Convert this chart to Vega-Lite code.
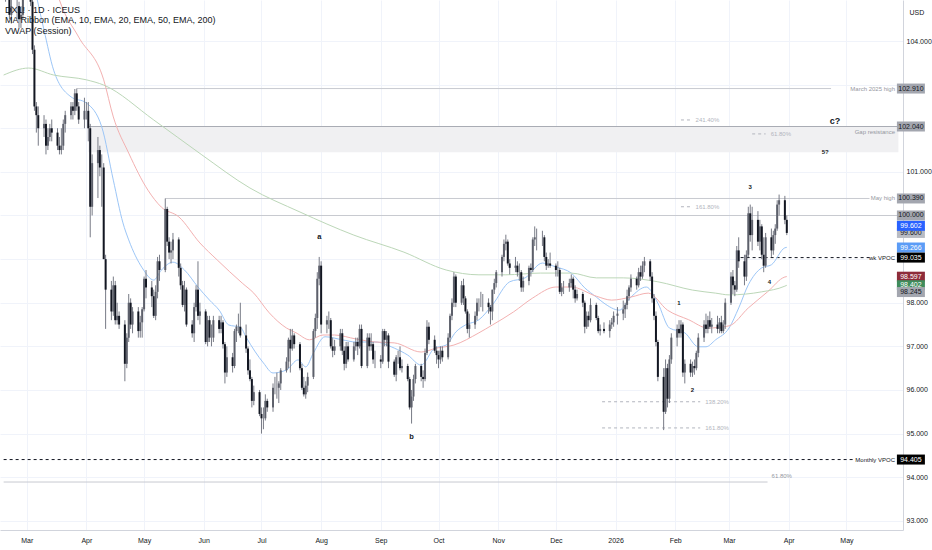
{
  "$schema": "https://vega.github.io/schema/vega-lite/v6.json",
  "width": 903,
  "height": 530,
  "autosize": {"type": "none"},
  "padding": {"left": 0, "top": 0, "right": 29, "bottom": 20},
  "background": "white",
  "config": {"view": {"stroke": null}, "font": "Liberation Sans"},
  "title": {
    "text": "DX1! · 1D · ICEUS",
    "subtitle": ["MA Ribbon (EMA, 10, EMA, 20, EMA, 50, EMA, 200)", "VWAP (Session)"],
    "anchor": "start", "frame": "group", "orient": "top", "offset": -36, "dx": 5,
    "fontSize": 9, "fontWeight": "normal", "color": "#131722",
    "subtitleFontSize": 9, "subtitleColor": "#131722", "subtitlePadding": 1, "subtitleLineHeight": 11
  },
  "datasets": {
    "candles": [
      {"d":"2025-02-18","o":105.1,"h":105.5,"l":104.9,"c":105.3},
      {"d":"2025-02-19","o":105.3,"h":105.6,"l":105.0,"c":105.4},
      {"d":"2025-02-20","o":105.4,"h":105.5,"l":104.5,"c":104.6},
      {"d":"2025-02-21","o":104.6,"h":105.0,"l":104.4,"c":104.8},
      {"d":"2025-02-24","o":104.8,"h":105.0,"l":104.5,"c":104.8},
      {"d":"2025-02-25","o":104.8,"h":104.9,"l":104.3,"c":104.5},
      {"d":"2025-02-26","o":104.5,"h":104.8,"l":104.3,"c":104.6},
      {"d":"2025-02-27","o":104.6,"h":105.5,"l":104.5,"c":105.4},
      {"d":"2025-02-28","o":105.4,"h":105.9,"l":105.2,"c":105.8},
      {"d":"2025-03-03","o":105.8,"h":105.9,"l":104.8,"c":104.9},
      {"d":"2025-03-04","o":104.9,"h":105.1,"l":103.7,"c":103.8},
      {"d":"2025-03-05","o":103.8,"h":103.9,"l":102.4,"c":102.5},
      {"d":"2025-03-06","o":102.5,"h":102.6,"l":101.9,"c":102.3},
      {"d":"2025-03-07","o":102.3,"h":102.5,"l":101.6,"c":102.0},
      {"d":"2025-03-10","o":102.0,"h":102.3,"l":101.8,"c":102.1},
      {"d":"2025-03-11","o":102.1,"h":102.2,"l":101.4,"c":101.6},
      {"d":"2025-03-12","o":101.6,"h":102.0,"l":101.5,"c":101.8},
      {"d":"2025-03-13","o":101.8,"h":102.1,"l":101.7,"c":102.0},
      {"d":"2025-03-14","o":102.0,"h":102.2,"l":101.7,"c":101.9},
      {"d":"2025-03-17","o":101.9,"h":102.0,"l":101.5,"c":101.6},
      {"d":"2025-03-18","o":101.6,"h":101.8,"l":101.4,"c":101.5},
      {"d":"2025-03-19","o":101.5,"h":102.0,"l":101.4,"c":101.6},
      {"d":"2025-03-20","o":101.6,"h":102.2,"l":101.5,"c":102.1},
      {"d":"2025-03-21","o":102.1,"h":102.4,"l":101.9,"c":102.3},
      {"d":"2025-03-24","o":102.3,"h":102.6,"l":102.2,"c":102.5},
      {"d":"2025-03-25","o":102.5,"h":102.6,"l":102.2,"c":102.4},
      {"d":"2025-03-26","o":102.4,"h":102.9,"l":102.3,"c":102.8},
      {"d":"2025-03-27","o":102.8,"h":102.91,"l":102.4,"c":102.5},
      {"d":"2025-03-28","o":102.5,"h":102.6,"l":102.1,"c":102.2},
      {"d":"2025-03-31","o":102.2,"h":102.7,"l":102.0,"c":102.4},
      {"d":"2025-04-01","o":102.4,"h":102.6,"l":102.2,"c":102.4},
      {"d":"2025-04-02","o":102.4,"h":102.6,"l":101.7,"c":102.0},
      {"d":"2025-04-03","o":102.0,"h":102.1,"l":99.5,"c":100.2},
      {"d":"2025-04-04","o":100.2,"h":101.4,"l":100.0,"c":101.2},
      {"d":"2025-04-07","o":101.2,"h":101.8,"l":100.4,"c":101.5},
      {"d":"2025-04-08","o":101.5,"h":101.6,"l":100.9,"c":101.1},
      {"d":"2025-04-09","o":101.1,"h":101.4,"l":100.2,"c":101.1},
      {"d":"2025-04-10","o":101.1,"h":101.2,"l":99.0,"c":99.0},
      {"d":"2025-04-11","o":99.0,"h":99.1,"l":97.4,"c":98.3},
      {"d":"2025-04-14","o":98.3,"h":98.5,"l":97.6,"c":97.8},
      {"d":"2025-04-15","o":97.8,"h":98.6,"l":97.7,"c":98.4},
      {"d":"2025-04-16","o":98.4,"h":98.5,"l":97.5,"c":97.6},
      {"d":"2025-04-17","o":97.6,"h":98.0,"l":97.5,"c":97.7},
      {"d":"2025-04-18","o":97.7,"h":97.8,"l":97.4,"c":97.5},
      {"d":"2025-04-21","o":97.5,"h":97.6,"l":96.2,"c":96.6},
      {"d":"2025-04-22","o":96.6,"h":97.3,"l":96.5,"c":97.2},
      {"d":"2025-04-23","o":97.2,"h":98.2,"l":97.1,"c":98.0},
      {"d":"2025-04-24","o":98.0,"h":98.1,"l":97.4,"c":97.5},
      {"d":"2025-04-25","o":97.5,"h":97.9,"l":97.3,"c":97.8},
      {"d":"2025-04-28","o":97.8,"h":97.9,"l":97.2,"c":97.35},
      {"d":"2025-04-29","o":97.35,"h":97.7,"l":97.2,"c":97.55},
      {"d":"2025-04-30","o":97.55,"h":97.9,"l":97.2,"c":97.85},
      {"d":"2025-05-01","o":97.85,"h":98.6,"l":97.8,"c":98.55},
      {"d":"2025-05-02","o":98.55,"h":98.75,"l":98.1,"c":98.35},
      {"d":"2025-05-05","o":98.35,"h":98.5,"l":97.9,"c":98.15},
      {"d":"2025-05-06","o":98.15,"h":98.3,"l":97.65,"c":97.7},
      {"d":"2025-05-07","o":97.7,"h":98.4,"l":97.6,"c":98.25},
      {"d":"2025-05-08","o":98.25,"h":99.05,"l":98.1,"c":98.95},
      {"d":"2025-05-09","o":98.95,"h":99.1,"l":98.5,"c":98.75},
      {"d":"2025-05-12","o":98.75,"h":100.39,"l":98.7,"c":100.15},
      {"d":"2025-05-13","o":100.15,"h":100.2,"l":99.3,"c":99.4},
      {"d":"2025-05-14","o":99.4,"h":99.5,"l":99.0,"c":99.15},
      {"d":"2025-05-15","o":99.15,"h":99.4,"l":98.9,"c":99.2},
      {"d":"2025-05-16","o":99.2,"h":99.6,"l":99.0,"c":99.45},
      {"d":"2025-05-19","o":99.45,"h":99.5,"l":98.6,"c":98.8},
      {"d":"2025-05-20","o":98.8,"h":98.9,"l":98.3,"c":98.4},
      {"d":"2025-05-21","o":98.4,"h":98.5,"l":97.9,"c":97.95},
      {"d":"2025-05-22","o":97.95,"h":98.5,"l":97.8,"c":98.3},
      {"d":"2025-05-23","o":98.3,"h":98.35,"l":97.45,"c":97.5},
      {"d":"2025-05-26","o":97.5,"h":97.6,"l":97.2,"c":97.3},
      {"d":"2025-05-27","o":97.3,"h":98.0,"l":97.1,"c":97.9},
      {"d":"2025-05-28","o":97.9,"h":98.4,"l":97.8,"c":98.3},
      {"d":"2025-05-29","o":98.3,"h":98.95,"l":97.6,"c":97.7},
      {"d":"2025-05-30","o":97.7,"h":98.0,"l":97.5,"c":97.8},
      {"d":"2025-06-02","o":97.8,"h":97.85,"l":97.05,"c":97.1},
      {"d":"2025-06-03","o":97.1,"h":97.7,"l":97.0,"c":97.6},
      {"d":"2025-06-04","o":97.6,"h":97.7,"l":97.1,"c":97.2},
      {"d":"2025-06-05","o":97.2,"h":97.5,"l":97.0,"c":97.2},
      {"d":"2025-06-06","o":97.2,"h":97.7,"l":97.1,"c":97.6},
      {"d":"2025-06-09","o":97.6,"h":97.7,"l":97.3,"c":97.4},
      {"d":"2025-06-10","o":97.4,"h":97.7,"l":97.3,"c":97.55},
      {"d":"2025-06-11","o":97.55,"h":97.6,"l":96.95,"c":97.05},
      {"d":"2025-06-12","o":97.05,"h":97.1,"l":96.15,"c":96.4},
      {"d":"2025-06-13","o":96.4,"h":97.0,"l":96.3,"c":96.75},
      {"d":"2025-06-16","o":96.75,"h":96.85,"l":96.4,"c":96.55},
      {"d":"2025-06-17","o":96.55,"h":97.4,"l":96.5,"c":97.35},
      {"d":"2025-06-18","o":97.35,"h":97.5,"l":97.1,"c":97.45},
      {"d":"2025-06-19","o":97.45,"h":97.75,"l":97.3,"c":97.45},
      {"d":"2025-06-20","o":97.45,"h":98.0,"l":97.2,"c":97.25},
      {"d":"2025-06-23","o":97.25,"h":97.5,"l":96.85,"c":96.95},
      {"d":"2025-06-24","o":96.95,"h":97.0,"l":96.35,"c":96.45},
      {"d":"2025-06-25","o":96.45,"h":96.7,"l":96.2,"c":96.25},
      {"d":"2025-06-26","o":96.25,"h":96.3,"l":95.6,"c":95.75},
      {"d":"2025-06-27","o":95.75,"h":96.1,"l":95.65,"c":95.95},
      {"d":"2025-06-30","o":95.95,"h":96.0,"l":95.4,"c":95.45},
      {"d":"2025-07-01","o":95.45,"h":95.6,"l":95.0,"c":95.35},
      {"d":"2025-07-02","o":95.35,"h":95.6,"l":95.1,"c":95.35},
      {"d":"2025-07-03","o":95.35,"h":95.9,"l":95.3,"c":95.75},
      {"d":"2025-07-04","o":95.75,"h":95.8,"l":95.5,"c":95.6},
      {"d":"2025-07-07","o":95.6,"h":96.15,"l":95.5,"c":96.05},
      {"d":"2025-07-08","o":96.05,"h":96.3,"l":95.9,"c":96.05},
      {"d":"2025-07-09","o":96.05,"h":96.4,"l":95.8,"c":96.05},
      {"d":"2025-07-10","o":96.05,"h":96.2,"l":95.7,"c":96.15},
      {"d":"2025-07-11","o":96.15,"h":96.5,"l":96.0,"c":96.45},
      {"d":"2025-07-14","o":96.45,"h":96.75,"l":96.4,"c":96.65},
      {"d":"2025-07-15","o":96.65,"h":97.2,"l":96.5,"c":97.15},
      {"d":"2025-07-16","o":97.15,"h":97.4,"l":96.4,"c":96.95},
      {"d":"2025-07-17","o":96.95,"h":97.4,"l":96.9,"c":97.25},
      {"d":"2025-07-18","o":97.25,"h":97.3,"l":96.95,"c":97.05},
      {"d":"2025-07-21","o":97.05,"h":97.1,"l":96.45,"c":96.5},
      {"d":"2025-07-22","o":96.5,"h":96.6,"l":96.0,"c":96.05},
      {"d":"2025-07-23","o":96.05,"h":96.3,"l":95.85,"c":95.9},
      {"d":"2025-07-24","o":95.9,"h":96.2,"l":95.8,"c":96.1},
      {"d":"2025-07-25","o":96.1,"h":96.4,"l":95.95,"c":96.3},
      {"d":"2025-07-28","o":96.3,"h":97.4,"l":96.25,"c":97.35},
      {"d":"2025-07-29","o":97.35,"h":97.75,"l":97.2,"c":97.65},
      {"d":"2025-07-30","o":97.65,"h":98.7,"l":97.4,"c":98.55},
      {"d":"2025-07-31","o":98.55,"h":99.05,"l":98.4,"c":98.85},
      {"d":"2025-08-01","o":98.85,"h":98.95,"l":97.3,"c":97.5},
      {"d":"2025-08-04","o":97.5,"h":97.7,"l":97.3,"c":97.6},
      {"d":"2025-08-05","o":97.6,"h":97.8,"l":97.4,"c":97.6},
      {"d":"2025-08-06","o":97.6,"h":97.65,"l":96.95,"c":97.0},
      {"d":"2025-08-07","o":97.0,"h":97.2,"l":96.75,"c":96.9},
      {"d":"2025-08-08","o":96.9,"h":97.15,"l":96.8,"c":97.0},
      {"d":"2025-08-11","o":97.0,"h":97.4,"l":96.9,"c":97.3},
      {"d":"2025-08-12","o":97.3,"h":97.4,"l":96.8,"c":96.9},
      {"d":"2025-08-13","o":96.9,"h":97.0,"l":96.45,"c":96.6},
      {"d":"2025-08-14","o":96.6,"h":97.1,"l":96.5,"c":97.0},
      {"d":"2025-08-15","o":97.0,"h":97.1,"l":96.65,"c":96.7},
      {"d":"2025-08-18","o":96.7,"h":97.1,"l":96.65,"c":97.0},
      {"d":"2025-08-19","o":97.0,"h":97.2,"l":96.9,"c":97.1},
      {"d":"2025-08-20","o":97.1,"h":97.2,"l":96.8,"c":97.0},
      {"d":"2025-08-21","o":97.0,"h":97.5,"l":96.95,"c":97.4},
      {"d":"2025-08-22","o":97.4,"h":97.5,"l":96.5,"c":96.55},
      {"d":"2025-08-25","o":96.55,"h":97.3,"l":96.5,"c":97.2},
      {"d":"2025-08-26","o":97.2,"h":97.3,"l":96.9,"c":97.0},
      {"d":"2025-08-27","o":97.0,"h":97.3,"l":96.9,"c":97.05},
      {"d":"2025-08-28","o":97.05,"h":97.1,"l":96.6,"c":96.7},
      {"d":"2025-08-29","o":96.7,"h":96.9,"l":96.5,"c":96.7},
      {"d":"2025-09-01","o":96.7,"h":96.8,"l":96.5,"c":96.65},
      {"d":"2025-09-02","o":96.65,"h":97.4,"l":96.6,"c":97.35},
      {"d":"2025-09-03","o":97.35,"h":97.4,"l":97.0,"c":97.15},
      {"d":"2025-09-04","o":97.15,"h":97.35,"l":97.0,"c":97.25},
      {"d":"2025-09-05","o":97.25,"h":97.3,"l":96.5,"c":96.65},
      {"d":"2025-09-08","o":96.65,"h":96.7,"l":96.3,"c":96.35},
      {"d":"2025-09-09","o":96.35,"h":96.8,"l":96.2,"c":96.75},
      {"d":"2025-09-10","o":96.75,"h":96.9,"l":96.6,"c":96.75},
      {"d":"2025-09-11","o":96.75,"h":97.0,"l":96.45,"c":96.5},
      {"d":"2025-09-12","o":96.5,"h":96.7,"l":96.4,"c":96.55},
      {"d":"2025-09-15","o":96.55,"h":96.6,"l":96.2,"c":96.25},
      {"d":"2025-09-16","o":96.25,"h":96.3,"l":95.55,"c":95.6},
      {"d":"2025-09-17","o":95.6,"h":96.0,"l":95.23,"c":95.85},
      {"d":"2025-09-18","o":95.85,"h":96.35,"l":95.75,"c":96.25},
      {"d":"2025-09-19","o":96.25,"h":96.6,"l":96.15,"c":96.55},
      {"d":"2025-09-22","o":96.55,"h":96.6,"l":96.2,"c":96.3},
      {"d":"2025-09-23","o":96.3,"h":96.45,"l":96.05,"c":96.25},
      {"d":"2025-09-24","o":96.25,"h":96.95,"l":96.2,"c":96.85},
      {"d":"2025-09-25","o":96.85,"h":97.6,"l":96.8,"c":97.45},
      {"d":"2025-09-26","o":97.45,"h":97.55,"l":97.05,"c":97.15},
      {"d":"2025-09-29","o":97.15,"h":97.25,"l":96.85,"c":96.9},
      {"d":"2025-09-30","o":96.9,"h":97.0,"l":96.6,"c":96.8},
      {"d":"2025-10-01","o":96.8,"h":96.9,"l":96.5,"c":96.7},
      {"d":"2025-10-02","o":96.7,"h":97.0,"l":96.6,"c":96.9},
      {"d":"2025-10-03","o":96.9,"h":97.0,"l":96.65,"c":96.75},
      {"d":"2025-10-06","o":96.75,"h":97.3,"l":96.7,"c":97.2},
      {"d":"2025-10-07","o":97.2,"h":97.75,"l":97.1,"c":97.7},
      {"d":"2025-10-08","o":97.7,"h":98.1,"l":97.6,"c":98.0},
      {"d":"2025-10-09","o":98.0,"h":98.7,"l":97.9,"c":98.6},
      {"d":"2025-10-10","o":98.6,"h":98.65,"l":97.9,"c":98.0},
      {"d":"2025-10-13","o":98.0,"h":98.5,"l":97.95,"c":98.4},
      {"d":"2025-10-14","o":98.4,"h":98.55,"l":97.95,"c":98.1},
      {"d":"2025-10-15","o":98.1,"h":98.15,"l":97.75,"c":97.8},
      {"d":"2025-10-16","o":97.8,"h":97.85,"l":97.3,"c":97.4},
      {"d":"2025-10-17","o":97.4,"h":97.75,"l":97.2,"c":97.5},
      {"d":"2025-10-20","o":97.5,"h":97.8,"l":97.4,"c":97.7},
      {"d":"2025-10-21","o":97.7,"h":98.1,"l":97.6,"c":98.0},
      {"d":"2025-10-22","o":98.0,"h":98.1,"l":97.8,"c":98.0},
      {"d":"2025-10-23","o":98.0,"h":98.25,"l":97.9,"c":98.0},
      {"d":"2025-10-24","o":98.0,"h":98.2,"l":97.8,"c":98.0},
      {"d":"2025-10-27","o":98.0,"h":98.1,"l":97.75,"c":97.9},
      {"d":"2025-10-28","o":97.9,"h":97.95,"l":97.5,"c":97.8},
      {"d":"2025-10-29","o":97.8,"h":98.3,"l":97.6,"c":98.3},
      {"d":"2025-10-30","o":98.3,"h":98.55,"l":98.2,"c":98.45},
      {"d":"2025-10-31","o":98.45,"h":98.75,"l":98.35,"c":98.7},
      {"d":"2025-11-03","o":98.7,"h":99.1,"l":98.6,"c":99.05},
      {"d":"2025-11-04","o":99.05,"h":99.45,"l":98.95,"c":99.35},
      {"d":"2025-11-05","o":99.35,"h":99.56,"l":99.2,"c":99.4},
      {"d":"2025-11-06","o":99.4,"h":99.45,"l":98.85,"c":98.9},
      {"d":"2025-11-07","o":98.9,"h":99.0,"l":98.65,"c":98.8},
      {"d":"2025-11-10","o":98.8,"h":99.05,"l":98.7,"c":98.85},
      {"d":"2025-11-11","o":98.85,"h":98.95,"l":98.6,"c":98.7},
      {"d":"2025-11-12","o":98.7,"h":98.9,"l":98.5,"c":98.7},
      {"d":"2025-11-13","o":98.7,"h":98.75,"l":98.25,"c":98.35},
      {"d":"2025-11-14","o":98.35,"h":98.6,"l":98.25,"c":98.5},
      {"d":"2025-11-17","o":98.5,"h":98.85,"l":98.4,"c":98.8},
      {"d":"2025-11-18","o":98.8,"h":98.9,"l":98.6,"c":98.75},
      {"d":"2025-11-19","o":98.75,"h":99.5,"l":98.7,"c":99.45},
      {"d":"2025-11-20","o":99.45,"h":99.75,"l":99.3,"c":99.5},
      {"d":"2025-11-21","o":99.5,"h":99.7,"l":99.2,"c":99.5},
      {"d":"2025-11-24","o":99.5,"h":99.65,"l":99.3,"c":99.5},
      {"d":"2025-11-25","o":99.5,"h":99.55,"l":98.95,"c":99.05},
      {"d":"2025-11-26","o":99.05,"h":99.15,"l":98.75,"c":98.85},
      {"d":"2025-11-27","o":98.85,"h":99.0,"l":98.8,"c":98.9},
      {"d":"2025-11-28","o":98.9,"h":99.15,"l":98.8,"c":98.85},
      {"d":"2025-12-01","o":98.85,"h":98.9,"l":98.6,"c":98.75},
      {"d":"2025-12-02","o":98.75,"h":98.95,"l":98.6,"c":98.75},
      {"d":"2025-12-03","o":98.75,"h":98.8,"l":98.2,"c":98.25},
      {"d":"2025-12-04","o":98.25,"h":98.45,"l":98.15,"c":98.35},
      {"d":"2025-12-05","o":98.35,"h":98.5,"l":98.2,"c":98.35},
      {"d":"2025-12-08","o":98.35,"h":98.55,"l":98.25,"c":98.45},
      {"d":"2025-12-09","o":98.45,"h":98.65,"l":98.35,"c":98.55},
      {"d":"2025-12-10","o":98.55,"h":98.6,"l":98.1,"c":98.3},
      {"d":"2025-12-11","o":98.3,"h":98.4,"l":98.0,"c":98.1},
      {"d":"2025-12-12","o":98.1,"h":98.3,"l":98.05,"c":98.2},
      {"d":"2025-12-15","o":98.2,"h":98.25,"l":97.9,"c":98.0},
      {"d":"2025-12-16","o":98.0,"h":98.05,"l":97.3,"c":97.45},
      {"d":"2025-12-17","o":97.45,"h":97.8,"l":97.4,"c":97.7},
      {"d":"2025-12-18","o":97.7,"h":97.8,"l":97.45,"c":97.6},
      {"d":"2025-12-19","o":97.6,"h":98.1,"l":97.55,"c":97.95},
      {"d":"2025-12-22","o":97.95,"h":98.0,"l":97.6,"c":97.65},
      {"d":"2025-12-23","o":97.65,"h":97.7,"l":97.3,"c":97.35},
      {"d":"2025-12-24","o":97.35,"h":97.5,"l":97.25,"c":97.4},
      {"d":"2025-12-26","o":97.4,"h":97.55,"l":97.3,"c":97.35},
      {"d":"2025-12-29","o":97.35,"h":97.6,"l":97.2,"c":97.5},
      {"d":"2025-12-30","o":97.5,"h":97.65,"l":97.4,"c":97.55},
      {"d":"2025-12-31","o":97.55,"h":97.8,"l":97.45,"c":97.7},
      {"d":"2026-01-02","o":97.7,"h":97.9,"l":97.5,"c":97.75},
      {"d":"2026-01-05","o":97.75,"h":98.05,"l":97.6,"c":97.85},
      {"d":"2026-01-06","o":97.85,"h":98.0,"l":97.65,"c":97.95},
      {"d":"2026-01-07","o":97.95,"h":98.3,"l":97.85,"c":98.15},
      {"d":"2026-01-08","o":98.15,"h":98.4,"l":98.05,"c":98.35},
      {"d":"2026-01-09","o":98.35,"h":98.65,"l":98.25,"c":98.55},
      {"d":"2026-01-12","o":98.55,"h":98.6,"l":98.3,"c":98.4},
      {"d":"2026-01-13","o":98.4,"h":98.8,"l":98.35,"c":98.7},
      {"d":"2026-01-14","o":98.7,"h":98.85,"l":98.5,"c":98.6},
      {"d":"2026-01-15","o":98.6,"h":98.95,"l":98.55,"c":98.85},
      {"d":"2026-01-16","o":98.85,"h":99.05,"l":98.7,"c":98.95},
      {"d":"2026-01-19","o":98.95,"h":99.0,"l":98.5,"c":98.6},
      {"d":"2026-01-20","o":98.6,"h":98.7,"l":98.0,"c":98.1},
      {"d":"2026-01-21","o":98.1,"h":98.2,"l":97.6,"c":97.7},
      {"d":"2026-01-22","o":97.7,"h":97.8,"l":97.0,"c":97.1},
      {"d":"2026-01-23","o":97.1,"h":97.15,"l":96.2,"c":96.3},
      {"d":"2026-01-26","o":96.3,"h":96.5,"l":95.08,"c":95.5},
      {"d":"2026-01-27","o":95.5,"h":96.7,"l":95.45,"c":96.5},
      {"d":"2026-01-28","o":96.5,"h":96.6,"l":95.6,"c":95.8},
      {"d":"2026-01-29","o":95.8,"h":96.8,"l":95.7,"c":96.7},
      {"d":"2026-01-30","o":96.7,"h":97.3,"l":96.6,"c":97.2},
      {"d":"2026-02-02","o":97.2,"h":97.5,"l":97.0,"c":97.4},
      {"d":"2026-02-03","o":97.4,"h":97.6,"l":97.2,"c":97.3},
      {"d":"2026-02-04","o":97.3,"h":97.6,"l":97.2,"c":97.5},
      {"d":"2026-02-05","o":97.5,"h":97.55,"l":96.3,"c":96.4},
      {"d":"2026-02-06","o":96.4,"h":96.7,"l":96.15,"c":96.6},
      {"d":"2026-02-09","o":96.6,"h":96.7,"l":96.3,"c":96.4},
      {"d":"2026-02-10","o":96.4,"h":96.65,"l":96.3,"c":96.55},
      {"d":"2026-02-11","o":96.55,"h":96.7,"l":96.35,"c":96.5},
      {"d":"2026-02-12","o":96.5,"h":96.9,"l":96.45,"c":96.85},
      {"d":"2026-02-13","o":96.85,"h":97.3,"l":96.75,"c":97.2},
      {"d":"2026-02-16","o":97.2,"h":97.6,"l":97.1,"c":97.5},
      {"d":"2026-02-17","o":97.5,"h":97.75,"l":97.3,"c":97.4},
      {"d":"2026-02-18","o":97.4,"h":97.7,"l":97.3,"c":97.6},
      {"d":"2026-02-19","o":97.6,"h":97.8,"l":97.4,"c":97.45},
      {"d":"2026-02-20","o":97.45,"h":97.65,"l":97.3,"c":97.5},
      {"d":"2026-02-23","o":97.5,"h":97.7,"l":97.3,"c":97.4},
      {"d":"2026-02-24","o":97.4,"h":97.65,"l":97.3,"c":97.55},
      {"d":"2026-02-25","o":97.55,"h":97.7,"l":97.3,"c":97.35},
      {"d":"2026-02-26","o":97.35,"h":97.6,"l":97.3,"c":97.5},
      {"d":"2026-02-27","o":97.5,"h":98.1,"l":97.4,"c":98.0},
      {"d":"2026-03-02","o":98.0,"h":98.7,"l":97.95,"c":98.6},
      {"d":"2026-03-03","o":98.6,"h":98.75,"l":98.2,"c":98.4},
      {"d":"2026-03-04","o":98.4,"h":98.5,"l":98.15,"c":98.3},
      {"d":"2026-03-05","o":98.3,"h":99.3,"l":98.25,"c":99.2},
      {"d":"2026-03-06","o":99.2,"h":99.5,"l":98.8,"c":98.95},
      {"d":"2026-03-09","o":98.95,"h":99.1,"l":98.4,"c":98.6},
      {"d":"2026-03-10","o":98.6,"h":99.2,"l":98.5,"c":99.1},
      {"d":"2026-03-11","o":99.1,"h":100.2,"l":99.05,"c":100.05},
      {"d":"2026-03-12","o":100.05,"h":100.25,"l":99.4,"c":99.55},
      {"d":"2026-03-13","o":99.55,"h":100.2,"l":99.2,"c":99.9},
      {"d":"2026-03-16","o":99.9,"h":100.1,"l":99.3,"c":99.4},
      {"d":"2026-03-17","o":99.4,"h":99.9,"l":99.2,"c":99.75},
      {"d":"2026-03-18","o":99.75,"h":99.8,"l":99.0,"c":99.1},
      {"d":"2026-03-19","o":99.1,"h":99.5,"l":98.7,"c":98.85},
      {"d":"2026-03-20","o":98.85,"h":99.6,"l":98.8,"c":99.5},
      {"d":"2026-03-23","o":99.5,"h":99.7,"l":99.05,"c":99.2},
      {"d":"2026-03-24","o":99.2,"h":99.65,"l":99.1,"c":99.55},
      {"d":"2026-03-25","o":99.55,"h":99.8,"l":99.35,"c":99.7},
      {"d":"2026-03-26","o":99.7,"h":100.35,"l":99.65,"c":100.25},
      {"d":"2026-03-27","o":100.25,"h":100.48,"l":100.0,"c":100.35},
      {"d":"2026-03-30","o":100.35,"h":100.45,"l":99.8,"c":99.9},
      {"d":"2026-03-31","o":99.9,"h":100.0,"l":99.55,"c":99.6}
    ],
    "ema": [
      {"d":"2025-03-02","s":"e20","v":105.86},{"d":"2025-03-10","s":"e20","v":104.25},{"d":"2025-03-15","s":"e20","v":103.33},
      {"d":"2025-03-24","s":"e20","v":102.72},{"d":"2025-04-01","s":"e20","v":102.58},{"d":"2025-04-09","s":"e20","v":102.03},
      {"d":"2025-04-15","s":"e20","v":100.81},{"d":"2025-04-20","s":"e20","v":99.83},{"d":"2025-04-23","s":"e20","v":99.44},
      {"d":"2025-04-30","s":"e20","v":98.8},{"d":"2025-05-06","s":"e20","v":98.52},{"d":"2025-05-10","s":"e20","v":98.75},
      {"d":"2025-05-16","s":"e20","v":98.93},{"d":"2025-05-22","s":"e20","v":98.75},{"d":"2025-05-29","s":"e20","v":98.36},
      {"d":"2025-06-04","s":"e20","v":98.06},{"d":"2025-06-09","s":"e20","v":97.83},{"d":"2025-06-14","s":"e20","v":97.49},
      {"d":"2025-06-20","s":"e20","v":97.44},{"d":"2025-06-23","s":"e20","v":97.21},{"d":"2025-07-02","s":"e20","v":96.62},
      {"d":"2025-07-07","s":"e20","v":96.39},{"d":"2025-07-14","s":"e20","v":96.46},{"d":"2025-07-20","s":"e20","v":96.69},
      {"d":"2025-07-24","s":"e20","v":96.53},{"d":"2025-07-28","s":"e20","v":96.85},{"d":"2025-08-03","s":"e20","v":97.22},
      {"d":"2025-08-12","s":"e20","v":97.15},{"d":"2025-08-19","s":"e20","v":97.1},{"d":"2025-08-29","s":"e20","v":97.1},
      {"d":"2025-09-08","s":"e20","v":96.96},{"d":"2025-09-15","s":"e20","v":96.8},{"d":"2025-09-22","s":"e20","v":96.57},
      {"d":"2025-09-29","s":"e20","v":96.96},{"d":"2025-10-05","s":"e20","v":97.03},{"d":"2025-10-10","s":"e20","v":97.33},
      {"d":"2025-10-15","s":"e20","v":97.49},{"d":"2025-10-22","s":"e20","v":97.61},{"d":"2025-10-29","s":"e20","v":97.95},
      {"d":"2025-11-07","s":"e20","v":98.48},{"d":"2025-11-15","s":"e20","v":98.57},{"d":"2025-11-24","s":"e20","v":98.91},
      {"d":"2025-12-01","s":"e20","v":98.82},{"d":"2025-12-09","s":"e20","v":98.68},{"d":"2025-12-16","s":"e20","v":98.34},
      {"d":"2025-12-22","s":"e20","v":98.13},{"d":"2025-12-26","s":"e20","v":97.99},{"d":"2026-01-03","s":"e20","v":97.83},
      {"d":"2026-01-09","s":"e20","v":98.13},{"d":"2026-01-17","s":"e20","v":98.36},{"d":"2026-01-23","s":"e20","v":97.99},
      {"d":"2026-01-29","s":"e20","v":97.42},{"d":"2026-02-06","s":"e20","v":97.31},{"d":"2026-02-13","s":"e20","v":96.99},
      {"d":"2026-02-17","s":"e20","v":96.99},{"d":"2026-02-22","s":"e20","v":97.15},{"d":"2026-03-01","s":"e20","v":97.42},
      {"d":"2026-03-06","s":"e20","v":97.88},{"d":"2026-03-11","s":"e20","v":98.41},{"d":"2026-03-18","s":"e20","v":98.8},
      {"d":"2026-03-23","s":"e20","v":98.87},{"d":"2026-03-30","s":"e20","v":99.26},{"d":"2026-03-31","s":"e20","v":99.27},
      {"d":"2025-03-10","s":"e50","v":106.3},{"d":"2025-03-18","s":"e50","v":104.94},{"d":"2025-03-28","s":"e50","v":104.09},
      {"d":"2025-04-10","s":"e50","v":103.11},{"d":"2025-04-15","s":"e50","v":102.26},{"d":"2025-04-23","s":"e50","v":101.43},
      {"d":"2025-05-03","s":"e50","v":100.58},{"d":"2025-05-10","s":"e50","v":100.19},{"d":"2025-05-19","s":"e50","v":99.97},
      {"d":"2025-05-30","s":"e50","v":99.37},{"d":"2025-06-08","s":"e50","v":98.98},{"d":"2025-06-21","s":"e50","v":98.45},
      {"d":"2025-06-27","s":"e50","v":98.22},{"d":"2025-07-05","s":"e50","v":97.77},{"d":"2025-07-14","s":"e50","v":97.42},
      {"d":"2025-07-19","s":"e50","v":97.31},{"d":"2025-07-26","s":"e50","v":97.15},{"d":"2025-08-02","s":"e50","v":97.26},
      {"d":"2025-08-08","s":"e50","v":97.26},{"d":"2025-08-19","s":"e50","v":97.17},{"d":"2025-08-29","s":"e50","v":97.1},
      {"d":"2025-09-08","s":"e50","v":97.08},{"d":"2025-09-22","s":"e50","v":96.87},{"d":"2025-09-30","s":"e50","v":96.96},
      {"d":"2025-10-09","s":"e50","v":97.03},{"d":"2025-10-22","s":"e50","v":97.31},{"d":"2025-10-29","s":"e50","v":97.49},
      {"d":"2025-11-09","s":"e50","v":97.79},{"d":"2025-11-19","s":"e50","v":98.11},{"d":"2025-12-01","s":"e50","v":98.36},
      {"d":"2025-12-09","s":"e50","v":98.36},{"d":"2025-12-22","s":"e50","v":98.15},{"d":"2025-12-30","s":"e50","v":98.06},
      {"d":"2026-01-09","s":"e50","v":98.13},{"d":"2026-01-18","s":"e50","v":98.22},{"d":"2026-01-28","s":"e50","v":97.83},
      {"d":"2026-02-08","s":"e50","v":97.61},{"d":"2026-02-18","s":"e50","v":97.42},{"d":"2026-03-01","s":"e50","v":97.47},
      {"d":"2026-03-11","s":"e50","v":97.88},{"d":"2026-03-21","s":"e50","v":98.25},{"d":"2026-03-30","s":"e50","v":98.59},
      {"d":"2026-03-31","s":"e50","v":98.6},
      {"d":"2025-02-17","s":"e200","v":103.22},{"d":"2025-03-02","s":"e200","v":103.38},{"d":"2025-03-15","s":"e200","v":103.22},
      {"d":"2025-04-01","s":"e200","v":103.11},{"d":"2025-04-10","s":"e200","v":102.99},{"d":"2025-05-06","s":"e200","v":102.19},
      {"d":"2025-05-31","s":"e200","v":101.39},{"d":"2025-06-25","s":"e200","v":100.63},{"d":"2025-07-21","s":"e200","v":100.08},
      {"d":"2025-08-18","s":"e200","v":99.55},{"d":"2025-09-13","s":"e200","v":99.16},{"d":"2025-10-05","s":"e200","v":98.75},
      {"d":"2025-10-22","s":"e200","v":98.64},{"d":"2025-11-05","s":"e200","v":98.64},{"d":"2025-11-23","s":"e200","v":98.68},
      {"d":"2025-12-09","s":"e200","v":98.68},{"d":"2025-12-22","s":"e200","v":98.57},{"d":"2026-01-05","s":"e200","v":98.57},
      {"d":"2026-01-23","s":"e200","v":98.48},{"d":"2026-02-10","s":"e200","v":98.29},{"d":"2026-02-22","s":"e200","v":98.22},
      {"d":"2026-03-01","s":"e200","v":98.18},{"d":"2026-03-18","s":"e200","v":98.25},{"d":"2026-03-30","s":"e200","v":98.38},
      {"d":"2026-03-31","s":"e200","v":98.4}
    ],
    "zone": [{"x0":"2025-04-02","x1":"2026-05-28","top":102.04,"bot":101.45}],
    "levels": [
      {"kind":"high","x0":"2025-03-27","x1":"2026-04-23","p":102.91,"lab":"March 2025 high"},
      {"kind":"gap","x0":"2025-04-02","x1":"2026-05-28","p":102.04,"lab":"Gap resistance"},
      {"kind":"high","x0":"2025-05-12","x1":"2026-05-13","p":100.39,"lab":"May high"},
      {"kind":"high","x0":"2025-05-12","x1":"2026-05-28","p":100.0,"lab":""},
      {"kind":"vpoc","x0":"2026-03-07","x1":"2026-05-13","p":99.035,"lab":"wk VPOC"},
      {"kind":"vpoc","x0":"2025-02-17","x1":"2026-05-05","p":94.405,"lab":"Monthly VPOC"}
    ],
    "fibs": [
      {"kind":"dash","x0":"2026-02-04","x1":"2026-02-09","p":102.19,"lab":"241.40%"},
      {"kind":"dash","x0":"2026-03-13","x1":"2026-03-20","p":101.87,"lab":"61.80%"},
      {"kind":"dash","x0":"2026-02-04","x1":"2026-02-09","p":100.2,"lab":"161.80%"},
      {"kind":"dash","x0":"2025-12-25","x1":"2026-02-14","p":95.73,"lab":"138.20%"},
      {"kind":"dash","x0":"2025-12-25","x1":"2026-02-14","p":95.13,"lab":"161.80%"},
      {"kind":"solid","x0":"2025-02-17","x1":"2026-03-21","p":93.89,"lab":"61.80%"}
    ],
    "waves": [
      {"d":"2025-07-31","p":99.51,"t":"a","k":"big"},
      {"d":"2025-09-17","p":94.93,"t":"b","k":"big"},
      {"d":"2026-04-25","p":102.17,"t":"c?","k":"huge"},
      {"d":"2026-02-03","p":97.99,"t":"1","k":"small"},
      {"d":"2026-02-10","p":96.0,"t":"2","k":"small"},
      {"d":"2026-03-12","p":100.65,"t":"3","k":"small"},
      {"d":"2026-03-22","p":98.48,"t":"4","k":"small"},
      {"d":"2026-04-20","p":101.46,"t":"5?","k":"small"}
    ],
    "badges": [
      {"p":102.91,"t":"102.910","k":"level"},
      {"p":102.04,"t":"102.040","k":"level"},
      {"p":100.39,"t":"100.390","k":"level"},
      {"p":100.0,"t":"100.000","k":"level"},
      {"p":99.6,"t":"99.600","k":"close"},
      {"p":99.266,"t":"99.266","k":"ema20"},
      {"p":99.035,"t":"99.035","k":"vpoc"},
      {"p":98.597,"t":"98.597","k":"ema50"},
      {"p":98.402,"t":"98.402","k":"ema200"},
      {"p":98.245,"t":"98.245","k":"vwap"},
      {"p":94.405,"t":"94.405","k":"vpoc"},
      {"p":99.602,"t":"99.602","k":"ema10"}
    ]
  },
  "resolve": {"scale": {"color": "independent", "size": "independent"}},
  "layer": [
    {
      "data": {"name": "zone"},
      "mark": {"type": "rect", "color": "#f0f0f2", "clip": true},
      "encoding": {
        "x": {"field": "x0", "type": "temporal",
          "scale": {"type": "utc", "domain": [{"year": 2025, "month": 2, "date": 17, "hours": 17, "utc": true}, {"year": 2026, "month": 5, "date": 27, "hours": 19, "utc": true}]},
          "axis": {"title": null, "orient": "bottom", "tickCount": {"interval": "month", "step": 1},
            "labelExpr": "utcmonth(datum.value) == 0 ? utcFormat(datum.value, '%Y') : utcFormat(datum.value, '%b')",
            "labelFontSize": 7, "labelColor": "#131722", "ticks": false, "labelPadding": 6,
            "domainColor": "#d1d4dc", "grid": true, "gridColor": "#f0f3fa"}},
        "x2": {"field": "x1"},
        "y": {"field": "top", "type": "quantitative",
          "scale": {"domain": [92.79, 104.94], "nice": false, "zero": false},
          "axis": {"orient": "right", "values": [93, 93.5, 94, 94.5, 95, 95.5, 96, 96.5, 97, 97.5, 98, 98.5, 99, 99.5, 100, 100.5, 101, 101.5, 102, 102.5, 103, 103.5, 104, 104.5],
            "format": ".3f", "labelExpr": "indexof([94.5, 98.5, 99, 100, 102, 103], datum.value) >= 0 ? '' : datum.label",
            "labelFontSize": 7, "labelColor": "#131722", "ticks": false, "labelPadding": 3,
            "domainColor": "#d1d4dc", "grid": true, "gridColor": "#f0f3fa",
            "title": "USD", "titleAngle": 0, "titleX": 6, "titleY": 12, "titleAlign": "left", "titleBaseline": "middle",
            "titleFontSize": 7, "titleFontWeight": "normal", "titleColor": "#131722"}},
        "y2": {"field": "bot"}
      }
    },
    {
      "data": {"name": "levels"},
      "transform": [{"filter": "datum.kind == 'high'"}],
      "mark": {"type": "rule", "color": "#c8cad0", "strokeWidth": 1, "clip": true},
      "encoding": {
        "x": {"field": "x0", "type": "temporal"},
        "x2": {"field": "x1"},
        "y": {"field": "p", "type": "quantitative"}
      }
    },
    {
      "data": {"name": "levels"},
      "transform": [{"filter": "datum.kind == 'gap'"}],
      "mark": {"type": "rule", "color": "#a9acb4", "strokeWidth": 1, "clip": true},
      "encoding": {
        "x": {"field": "x0", "type": "temporal"},
        "x2": {"field": "x1"},
        "y": {"field": "p", "type": "quantitative"}
      }
    },
    {
      "data": {"name": "fibs"},
      "transform": [{"filter": "datum.kind == 'dash'"}],
      "mark": {"type": "rule", "color": "#b2b5be", "strokeWidth": 1, "strokeDash": [3, 3]},
      "encoding": {
        "x": {"field": "x0", "type": "temporal"},
        "x2": {"field": "x1"},
        "y": {"field": "p", "type": "quantitative"}
      }
    },
    {
      "data": {"name": "fibs"},
      "transform": [{"filter": "datum.kind == 'solid'"}],
      "mark": {"type": "rule", "color": "#c8cad0", "strokeWidth": 1, "clip": true},
      "encoding": {
        "x": {"field": "x0", "type": "temporal"},
        "x2": {"field": "x1"},
        "y": {"field": "p", "type": "quantitative"}
      }
    },
    {
      "data": {"name": "levels"},
      "transform": [{"filter": "datum.kind == 'vpoc'"}],
      "mark": {"type": "rule", "color": "#131722", "strokeWidth": 1, "strokeDash": [3, 3], "clip": true},
      "encoding": {
        "x": {"field": "x0", "type": "temporal"},
        "x2": {"field": "x1"},
        "y": {"field": "p", "type": "quantitative"}
      }
    },
    {
      "data": {"name": "ema"},
      "mark": {"type": "line", "strokeWidth": 1, "interpolate": "monotone", "clip": true},
      "encoding": {
        "x": {"field": "d", "type": "temporal"},
        "y": {"field": "v", "type": "quantitative"},
        "color": {"field": "s", "type": "nominal", "legend": null,
          "scale": {"domain": ["e20", "e50", "e200"], "range": ["#9cc6f7", "#f3b1b1", "#bcd7b8"]}}
      }
    },
    {
      "data": {"name": "candles"},
      "mark": {"type": "rule", "color": "#787b86", "strokeWidth": 1, "clip": true},
      "encoding": {
        "x": {"field": "d", "type": "temporal"},
        "y": {"field": "l", "type": "quantitative"},
        "y2": {"field": "h"}
      }
    },
    {
      "data": {"name": "candles"},
      "mark": {"type": "bar", "size": 2, "clip": true},
      "encoding": {
        "x": {"field": "d", "type": "temporal"},
        "y": {"field": "o", "type": "quantitative"},
        "y2": {"field": "c"},
        "color": {"condition": {"test": "datum.c >= datum.o", "value": "#5d606b"}, "value": "#131722"}
      }
    },
    {
      "data": {"name": "levels"},
      "transform": [{"filter": "datum.kind == 'high'"}],
      "mark": {"type": "text", "align": "right", "baseline": "middle", "dx": -3, "fontSize": 6, "color": "#9598a1"},
      "encoding": {
        "x": {"datum": {"year": 2026, "month": 5, "date": 27, "hours": 19, "utc": true}, "type": "temporal"},
        "y": {"field": "p", "type": "quantitative"},
        "text": {"field": "lab"}
      }
    },
    {
      "data": {"name": "levels"},
      "transform": [{"filter": "datum.kind == 'gap'"}],
      "mark": {"type": "text", "align": "right", "baseline": "middle", "dx": -3, "dy": 5, "fontSize": 6, "color": "#9598a1"},
      "encoding": {
        "x": {"datum": {"year": 2026, "month": 5, "date": 27, "hours": 19, "utc": true}, "type": "temporal"},
        "y": {"field": "p", "type": "quantitative"},
        "text": {"field": "lab"}
      }
    },
    {
      "data": {"name": "levels"},
      "transform": [{"filter": "datum.kind == 'vpoc'"}],
      "mark": {"type": "text", "align": "right", "baseline": "middle", "dx": -3, "fontSize": 6, "color": "#131722"},
      "encoding": {
        "x": {"datum": {"year": 2026, "month": 5, "date": 27, "hours": 19, "utc": true}, "type": "temporal"},
        "y": {"field": "p", "type": "quantitative"},
        "text": {"field": "lab"}
      }
    },
    {
      "data": {"name": "fibs"},
      "transform": [{"filter": "datum.kind == 'dash'"}],
      "mark": {"type": "text", "align": "left", "baseline": "middle", "dx": 5, "fontSize": 6, "color": "#b2b5be"},
      "encoding": {
        "x": {"field": "x1", "type": "temporal"},
        "y": {"field": "p", "type": "quantitative"},
        "text": {"field": "lab"}
      }
    },
    {
      "data": {"name": "fibs"},
      "transform": [{"filter": "datum.kind == 'solid'"}],
      "mark": {"type": "text", "align": "left", "baseline": "middle", "dx": 4, "dy": -6, "fontSize": 6, "color": "#9598a1"},
      "encoding": {
        "x": {"field": "x1", "type": "temporal"},
        "y": {"field": "p", "type": "quantitative"},
        "text": {"field": "lab"}
      }
    },
    {
      "data": {"name": "waves"},
      "mark": {"type": "text", "align": "center", "baseline": "middle", "fontWeight": "bold", "color": "#131722"},
      "encoding": {
        "x": {"field": "d", "type": "temporal"},
        "y": {"field": "p", "type": "quantitative"},
        "text": {"field": "t"},
        "size": {"field": "k", "type": "nominal", "legend": null,
          "scale": {"domain": ["small", "big", "huge"], "range": [6, 9, 11]}}
      }
    },
    {
      "data": {"name": "badges"},
      "transform": [{"filter": "datum.k != 'ema10'"}],
      "mark": {"type": "tick", "orient": "horizontal", "size": 28, "thickness": 10},
      "encoding": {
        "x": {"datum": {"year": 2026, "month": 6, "date": 3, "hours": 12, "utc": true}, "type": "temporal"},
        "y": {"field": "p", "type": "quantitative"},
        "color": {"field": "k", "type": "nominal", "legend": null,
          "scale": {"domain": ["level", "close", "ema10", "ema20", "vpoc", "ema50", "ema200", "vwap"],
            "range": ["#a3a6af", "#b8bbc3", "#2962ff", "#5b9cf6", "#000000", "#8e2c3a", "#3f8c5c", "#a3a6af"]}},
        "opacity": {"value": 1}
      }
    },
    {
      "data": {"name": "badges"},
      "transform": [{"filter": "datum.k != 'ema10'"}],
      "mark": {"type": "text", "align": "center", "baseline": "middle", "fontSize": 7},
      "encoding": {
        "x": {"datum": {"year": 2026, "month": 6, "date": 3, "hours": 12, "utc": true}, "type": "temporal"},
        "y": {"field": "p", "type": "quantitative"},
        "text": {"field": "t"},
        "color": {"field": "k", "type": "nominal", "legend": null,
          "scale": {"domain": ["level", "close", "ema10", "ema20", "vpoc", "ema50", "ema200", "vwap"],
            "range": ["#131722", "#131722", "#ffffff", "#ffffff", "#ffffff", "#ffffff", "#ffffff", "#131722"]}}
      }
    },
    {
      "data": {"name": "badges"},
      "transform": [{"filter": "datum.k == 'ema10'"}],
      "mark": {"type": "tick", "orient": "horizontal", "size": 28, "thickness": 10, "yOffset": -7, "color": "#2962ff", "opacity": 1},
      "encoding": {
        "x": {"datum": {"year": 2026, "month": 6, "date": 3, "hours": 12, "utc": true}, "type": "temporal"},
        "y": {"field": "p", "type": "quantitative"}
      }
    },
    {
      "data": {"name": "badges"},
      "transform": [{"filter": "datum.k == 'ema10'"}],
      "mark": {"type": "text", "align": "center", "baseline": "middle", "fontSize": 7, "yOffset": -7, "color": "#ffffff"},
      "encoding": {
        "x": {"datum": {"year": 2026, "month": 6, "date": 3, "hours": 12, "utc": true}, "type": "temporal"},
        "y": {"field": "p", "type": "quantitative"},
        "text": {"field": "t"}
      }
    }
  ]
}
